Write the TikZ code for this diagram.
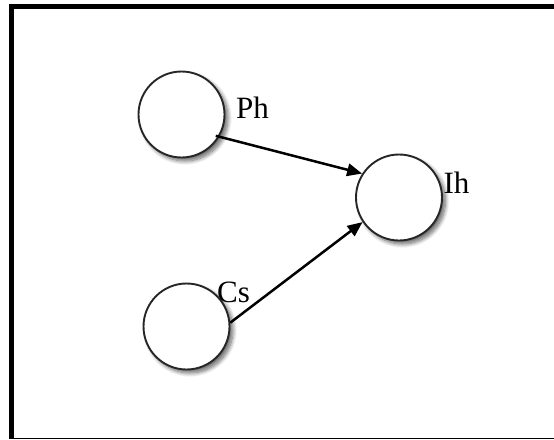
\documentclass[tikz,border=0pt]{standalone}
\usepackage{fontspec}
\setmainfont{Liberation Serif}
\usetikzlibrary{arrows.meta,positioning,shadows.blur}

\begin{document}
\begin{tikzpicture}[
        x=1pt, y=1pt,
        var/.style={draw=black!85, circle, line width=1.9pt, fill=white, inner sep=0pt,
            minimum size=86pt,
            blur shadow={shadow xshift=3.5pt, shadow yshift=-3.5pt,
                shadow blur steps=10, shadow blur radius=4pt, shadow opacity=60}},
        lbl/.style={font=\fontsize{31}{36}\selectfont, inner sep=0pt, anchor=base west},
        line/.style={-{Triangle[length=15pt, width=12.5pt]}, line width=2.5pt}]
        \useasboundingbox (0,0) rectangle (554,-439);
        % frame
        \draw[line width=5pt] (11.8,-438) |- (560,-6.5);
        \draw[line width=1.5pt] (9.3,-438.3) -- (560,-438.3);
        % variables
        \node[var, label={[lbl, xshift=10.5pt, yshift=-3.5pt]right:Ph}] (ph) at (181.5,-114.5) {};
        \node[var, on grid, below right=83pt and 217.5pt of ph,
            label={[lbl, xshift=0.5pt, yshift=4.5pt]right:Ih}] (ih) {};
        \node[var, on grid, below right=212pt and 5pt of ph,
            label={[lbl, xshift=-0.6pt, yshift=-7pt]45:Cs}] (cs) {};
        \draw[line] ([shift={(-3pt,2pt)}]ph.-32) -- (ih.147);
        \draw[line] (cs.5) -- (ih.-146);
    \end{tikzpicture}
\end{document}
